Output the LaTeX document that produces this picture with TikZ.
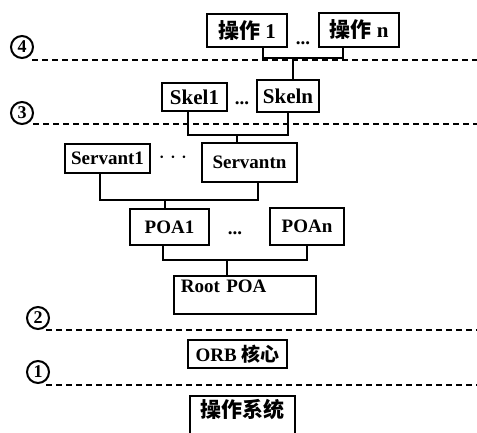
\documentclass[tikz,border=0pt]{standalone}
\usepackage{fontspec}
\setmainfont{Liberation Serif}
\newfontfamily\cjk{Noto Sans CJK SC}
\usetikzlibrary{calc}
\tikzset{
  box/.style={draw, line width=1.8pt, inner sep=0pt, font=\bfseries\fontsize{19}{19}\selectfont},
  bigbox/.style={box, font=\bfseries\fontsize{21}{21}\selectfont},
  wire/.style={line width=1.8pt},
  dline/.style={line width=1.8pt, dash pattern=on 6pt off 4pt},
  num/.style={circle, draw, line width=2pt, inner sep=0pt, minimum size=22pt, font=\bfseries\fontsize{18}{18}\selectfont},
  dots/.style={inner sep=0pt, font=\bfseries\fontsize{19}{19}\selectfont}
}
\begin{document}
\begin{tikzpicture}[x=1pt,y=-1pt]
\useasboundingbox (0,0) rectangle (477,432);
\clip (0,0) rectangle (477,432);
% boxes
\node[bigbox, minimum width=80pt, minimum height=33pt] (op1) at (247,30.5) {{\cjk\bfseries 操作} 1};
\node[bigbox, minimum width=80pt, minimum height=34pt] (opn) at (359,30) {{\cjk\bfseries 操作} n};
\node[bigbox, minimum width=65pt, minimum height=28pt] (skel1) at (194.5,97) {Skel1};
\node[bigbox, minimum width=62pt, minimum height=32pt] (skeln) at (288,96) {Skeln};
\node[box, minimum width=85pt, minimum height=29pt] (serv1) at (107.5,158.5) {Servant1};
\node[box, minimum width=95pt, minimum height=39pt] (servn) at (249.5,162.5) {Servantn};
\node[box, minimum width=79pt, minimum height=36pt] (poa1) at (169.5,227) {POA1};
\node[box, minimum width=74pt, minimum height=37pt] (poan) at (307,226.5) {POAn};
\node[box, anchor=north west, minimum width=142pt, inner xsep=7pt, text height=14pt, text depth=18pt, inner ysep=3pt, align=left, text width=128pt] (root) at (173,275) {Root POA};
\node[box, minimum width=99pt, minimum height=28pt] (orb) at (237.5,354) {ORB {\cjk\bfseries 核心}};
\node[bigbox, anchor=north, minimum width=105pt, text height=22pt, text depth=24pt] (os) at (242.5,395) {\cjk\bfseries 操作系统};
% dots
\node[dots, anchor=base] (d1) at (303,44) {...};
\node[dots, anchor=base] (d2) at (242,104) {...};
\node[dots, font=\bfseries\fontsize{24}{24}\selectfont] (d3) at (173,158) {$\cdots$};
\node[dots, anchor=base] (d4) at (235,234) {...};
% connectors
\coordinate (b4) at (293,58);
\draw[wire] ($(op1.south)+(16,0)$) |- (b4) -| ($(opn.south)+(-16,0)$);
\draw[wire] (b4) -- (b4 |- skeln.north);
\coordinate (b3) at (237,135);
\draw[wire] ($(skel1.south)+(-6.5,0)$) |- (b3) -| (skeln.south);
\draw[wire] (b3) -- (b3 |- servn.north);
\coordinate (bs) at (165,200);
\draw[wire] ($(serv1.south)+(-7.5,0)$) |- (bs) -| ($(servn.south)+(8.5,0)$);
\draw[wire] (bs) -- (bs |- poa1.north);
\coordinate (bp) at (227,260);
\draw[wire] ($(poa1.south)+(-6.5,0)$) |- (bp) -| (poan.south);
\draw[wire] (bp) -- (bp |- root.north);
% layer numbers and separators
\node[num] (n4) at (22,47) {4};
\node[num] (n3) at (22,113) {3};
\node[num] (n2) at (38,318) {2};
\node[num] (n1) at (38,372) {1};
\draw[dline] (32,60) -- (477,60);
\draw[dline] (33,124) -- (477,124);
\draw[dline] (46,330) -- (477,330);
\draw[dline] (46,385) -- (477,385);
\end{tikzpicture}
\end{document}
